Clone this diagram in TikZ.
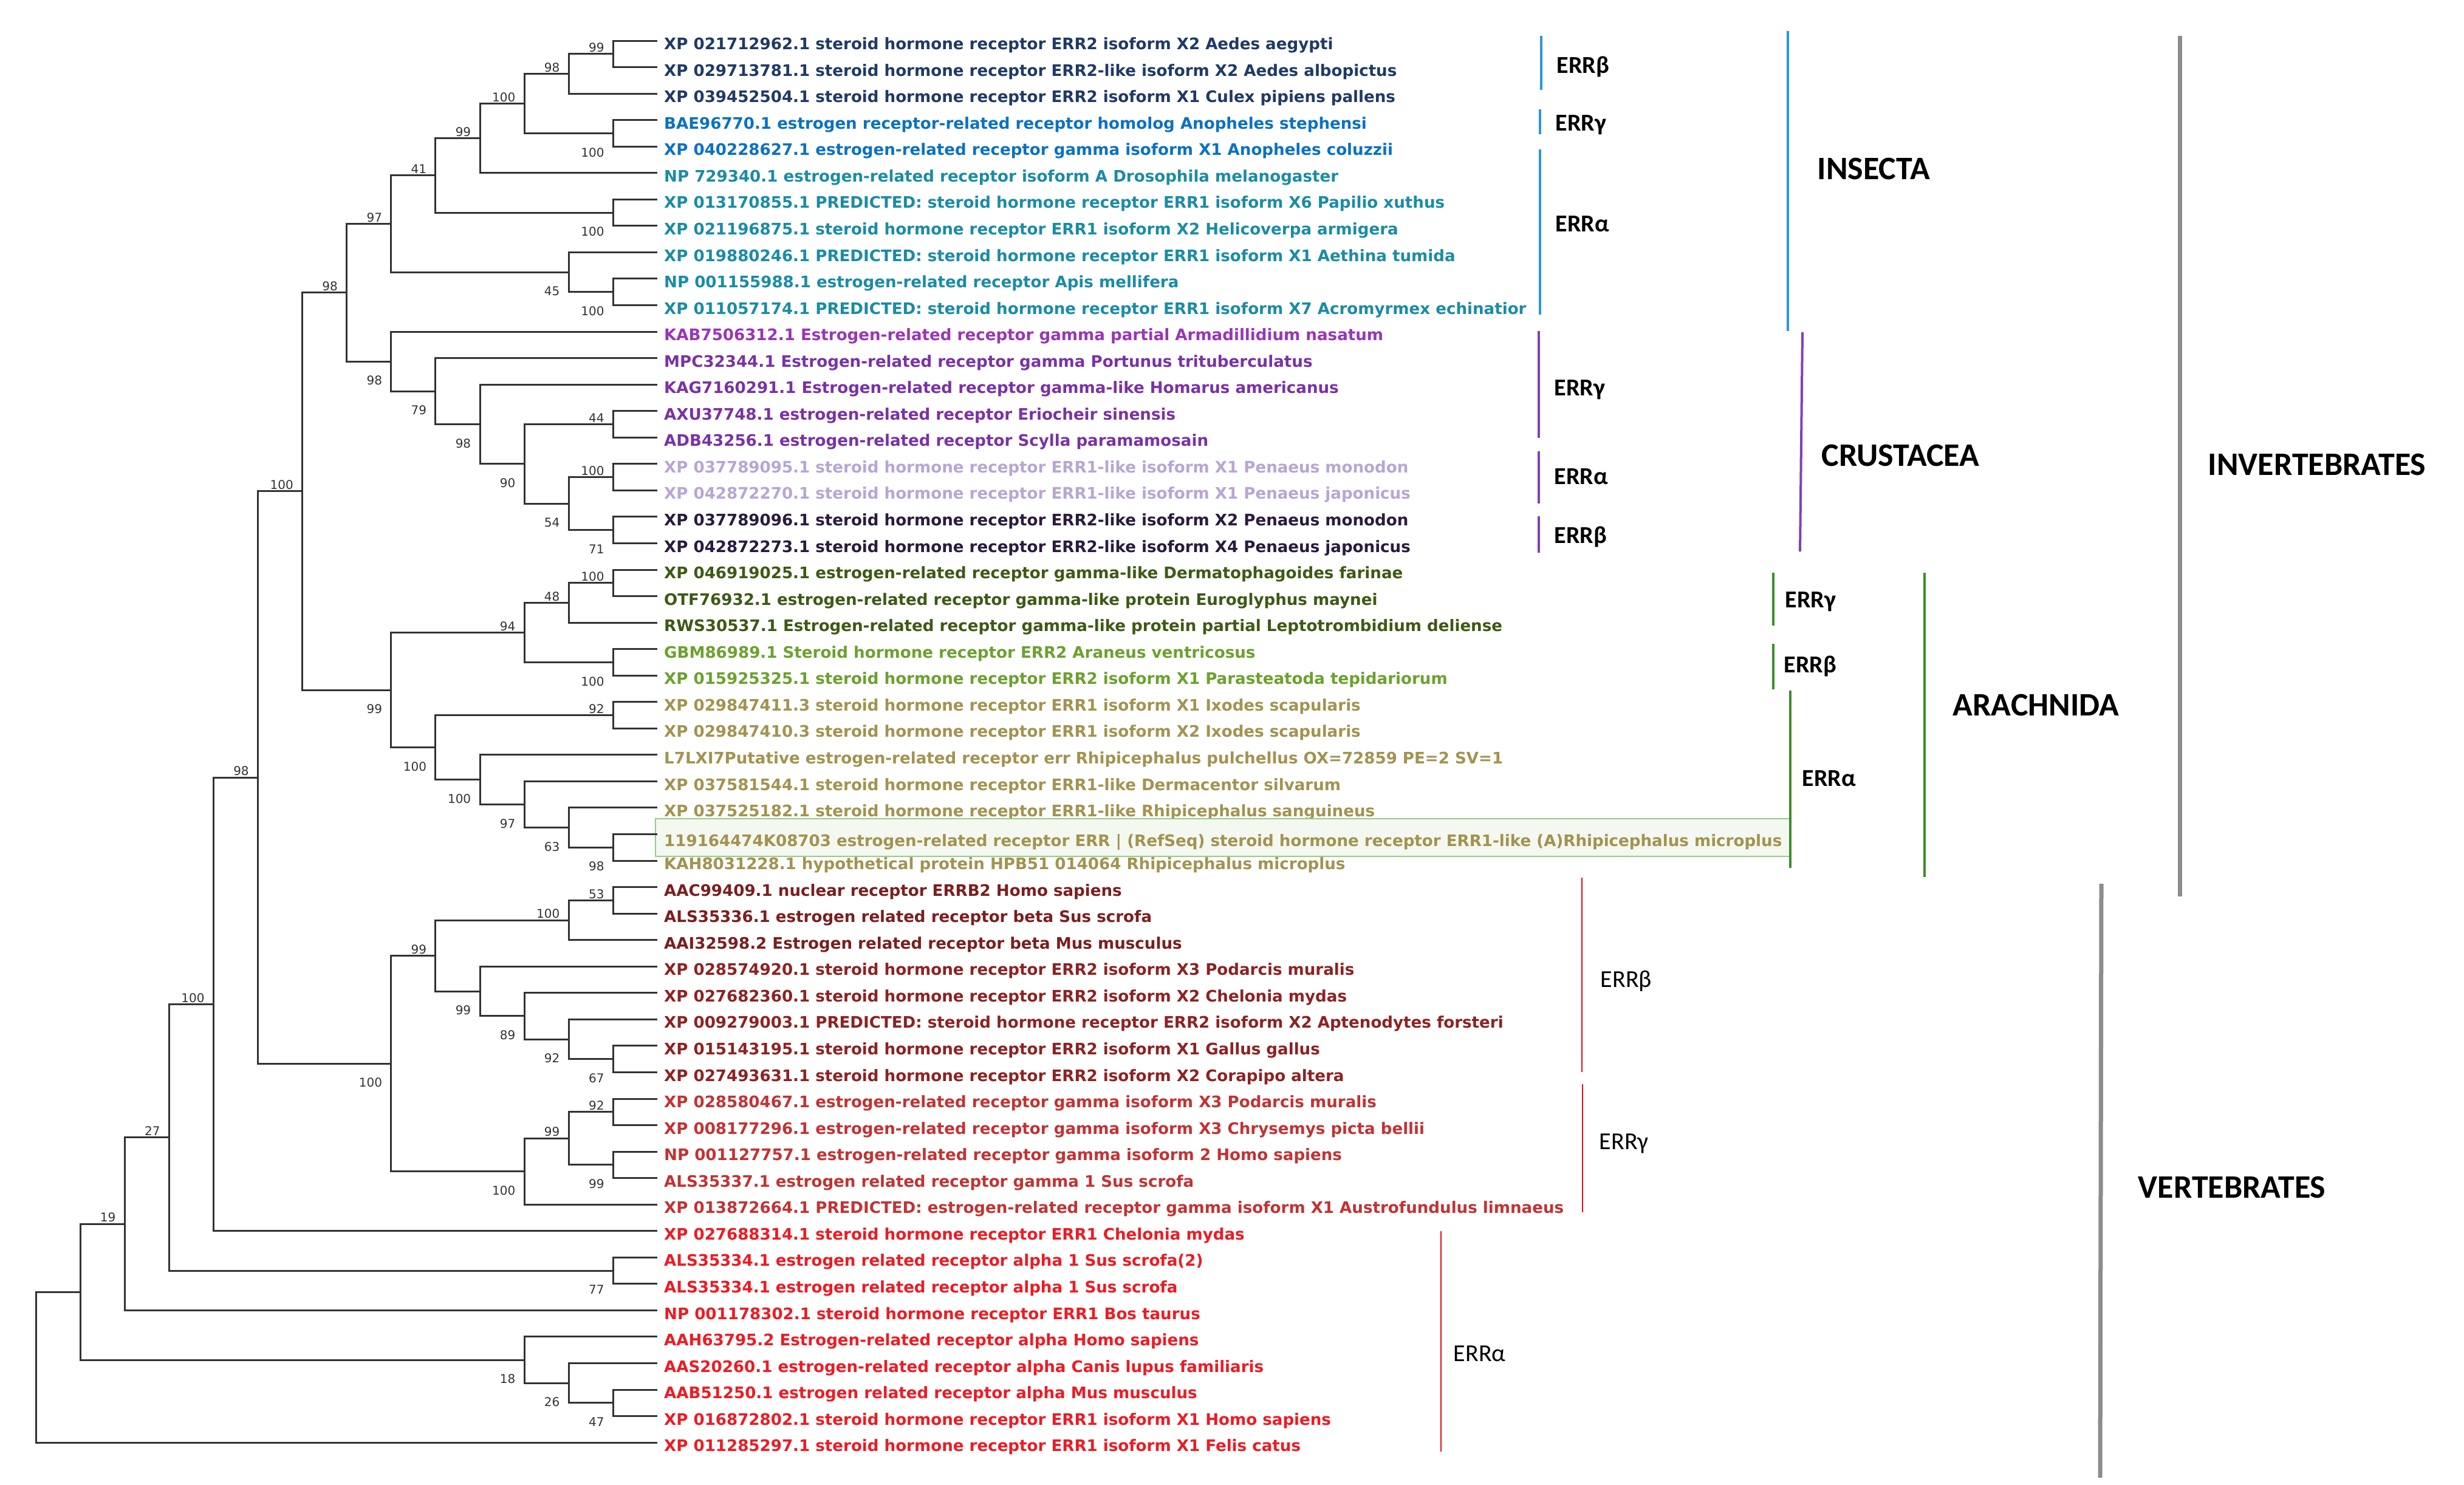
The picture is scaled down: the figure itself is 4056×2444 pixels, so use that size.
\documentclass[tikz,border=0pt]{standalone}
\usepackage{fontspec}
\setmainfont{DejaVu Sans}
\newfontfamily\calib{Carlito}
\definecolor{treecol}{HTML}{333333}
\definecolor{cNavy}{HTML}{1F3A66}
\definecolor{cBlue}{HTML}{0A72C2}
\definecolor{cTeal}{HTML}{1A8CA6}
\definecolor{cMag}{HTML}{9A35B8}
\definecolor{cPurp}{HTML}{7A32A6}
\definecolor{cLav}{HTML}{B8A6D4}
\definecolor{cDkP}{HTML}{2A1B3E}
\definecolor{cOlive}{HTML}{3D5A14}
\definecolor{cGreen}{HTML}{6BA22E}
\definecolor{cKhaki}{HTML}{A39350}
\definecolor{cMar}{HTML}{7C1E1E}
\definecolor{cMar2}{HTML}{8E2222}
\definecolor{cRed2}{HTML}{C23333}
\definecolor{cRed}{HTML}{EC1C24}
\definecolor{brBlue}{HTML}{2A98D8}
\definecolor{brPurp}{HTML}{8440B4}
\definecolor{brGreen}{HTML}{3A8F2A}
\definecolor{brRed}{HTML}{E0101A}
\definecolor{brGray}{HTML}{8C8C8C}
\definecolor{boxLine}{HTML}{96CC86}
\definecolor{boxFill}{HTML}{F3F8F0}
\newcommand\tnode[3]{\coordinate (#1) at ({59+73.1*#2},{67+(#3-1)*43.55});}
\newcommand\clade[3]{\draw[tree] (#2) -| (#1) |- (#3);}
\newcommand\bsu[2]{\node[bsl] (b#1) at ([xshift=-3.5pt,yshift=4.5pt]#1) {#2};}
\newcommand\bsd[2]{\node[bsl] (b#1) at ([xshift=-3.5pt,yshift=-6pt]#1) {#2};}
\newcommand\leaf[3]{\coordinate (L#1) at (1082.4,{67+(#1-1)*43.55});
  \node[leaftext, text=#2] (t#1) at ([xshift=2.5pt]L#1) {#3};}
\begin{document}
\begin{tikzpicture}[x=0.25pt,y=-0.25pt,
  tree/.style={draw=treecol, line width=0.75pt},
  leaftext/.style={anchor=west, inner sep=0pt, text height=0.73em, text depth=0pt,
     font=\fontsize{6.53}{8}\selectfont\bfseries},
  bsl/.style={anchor=east, inner sep=0pt, text height=0.73em, text depth=0pt,
     text=treecol, font=\fontsize{5}{6}\selectfont},
  subl/.style={anchor=west, inner sep=0pt, text height=0.65em, text depth=0pt,
     font=\calib\bfseries\fontsize{10}{12}\selectfont},
  subv/.style={anchor=west, inner sep=0pt, text height=0.65em, text depth=0pt,
     font=\calib\fontsize{10}{12}\selectfont},
  bigl/.style={anchor=west, inner sep=0pt, text height=0.65em, text depth=0pt,
     font=\calib\bfseries\fontsize{13.5}{16}\selectfont},
  brline/.style={line width=1pt},
  grayline/.style={draw=brGray, line width=1.75pt}]
\fill[white] (0,0) rectangle (4056,2444);
\useasboundingbox (0,0) rectangle (4056,2444);

% ---------------- leaves ----------------
\leaf{1}{cNavy}{XP 021712962.1 steroid hormone receptor ERR2 isoform X2 Aedes aegypti}
\leaf{2}{cNavy}{XP 029713781.1 steroid hormone receptor ERR2-like isoform X2 Aedes albopictus}
\leaf{3}{cNavy}{XP 039452504.1 steroid hormone receptor ERR2 isoform X1 Culex pipiens pallens}
\leaf{4}{cBlue}{BAE96770.1 estrogen receptor-related receptor homolog Anopheles stephensi}
\leaf{5}{cBlue}{XP 040228627.1 estrogen-related receptor gamma isoform X1 Anopheles coluzzii}
\leaf{6}{cTeal}{NP 729340.1 estrogen-related receptor isoform A Drosophila melanogaster}
\leaf{7}{cTeal}{XP 013170855.1 PREDICTED: steroid hormone receptor ERR1 isoform X6 Papilio xuthus}
\leaf{8}{cTeal}{XP 021196875.1 steroid hormone receptor ERR1 isoform X2 Helicoverpa armigera}
\leaf{9}{cTeal}{XP 019880246.1 PREDICTED: steroid hormone receptor ERR1 isoform X1 Aethina tumida}
\leaf{10}{cTeal}{NP 001155988.1 estrogen-related receptor Apis mellifera}
\leaf{11}{cTeal}{XP 011057174.1 PREDICTED: steroid hormone receptor ERR1 isoform X7 Acromyrmex echinatior}
\leaf{12}{cMag}{KAB7506312.1 Estrogen-related receptor gamma partial Armadillidium nasatum}
\leaf{13}{cPurp}{MPC32344.1 Estrogen-related receptor gamma Portunus trituberculatus}
\leaf{14}{cPurp}{KAG7160291.1 Estrogen-related receptor gamma-like Homarus americanus}
\leaf{15}{cPurp}{AXU37748.1 estrogen-related receptor Eriocheir sinensis}
\leaf{16}{cPurp}{ADB43256.1 estrogen-related receptor Scylla paramamosain}
\leaf{17}{cLav}{XP 037789095.1 steroid hormone receptor ERR1-like isoform X1 Penaeus monodon}
\leaf{18}{cLav}{XP 042872270.1 steroid hormone receptor ERR1-like isoform X1 Penaeus japonicus}
\leaf{19}{cDkP}{XP 037789096.1 steroid hormone receptor ERR2-like isoform X2 Penaeus monodon}
\leaf{20}{cDkP}{XP 042872273.1 steroid hormone receptor ERR2-like isoform X4 Penaeus japonicus}
\leaf{21}{cOlive}{XP 046919025.1 estrogen-related receptor gamma-like Dermatophagoides farinae}
\leaf{22}{cOlive}{OTF76932.1 estrogen-related receptor gamma-like protein Euroglyphus maynei}
\leaf{23}{cOlive}{RWS30537.1 Estrogen-related receptor gamma-like protein partial Leptotrombidium deliense}
\leaf{24}{cGreen}{GBM86989.1 Steroid hormone receptor ERR2 Araneus ventricosus}
\leaf{25}{cGreen}{XP 015925325.1 steroid hormone receptor ERR2 isoform X1 Parasteatoda tepidariorum}
\leaf{26}{cKhaki}{XP 029847411.3 steroid hormone receptor ERR1 isoform X1 Ixodes scapularis}
\leaf{27}{cKhaki}{XP 029847410.3 steroid hormone receptor ERR1 isoform X2 Ixodes scapularis}
\leaf{28}{cKhaki}{L7LXI7Putative estrogen-related receptor err Rhipicephalus pulchellus OX=72859 PE=2 SV=1}
\leaf{29}{cKhaki}{XP 037581544.1 steroid hormone receptor ERR1-like Dermacentor silvarum}
\leaf{30}{cKhaki}{XP 037525182.1 steroid hormone receptor ERR1-like Rhipicephalus sanguineus}
\leaf{32}{cKhaki}{KAH8031228.1 hypothetical protein HPB51 014064 Rhipicephalus microplus}
\coordinate (L31) at (1082.4,{67+30*43.55});
\node[leaftext, text=cKhaki, draw=boxLine, fill=boxFill, line width=0.6pt,
      inner xsep=3.5pt, minimum height=15.5pt] (t31) at (1078,1379)
  {119164474K08703 estrogen-related receptor ERR | (RefSeq) steroid hormone receptor ERR1-like (A)Rhipicephalus microplus};
\leaf{33}{cMar}{AAC99409.1 nuclear receptor ERRB2 Homo sapiens}
\leaf{34}{cMar}{ALS35336.1 estrogen related receptor beta Sus scrofa}
\leaf{35}{cMar}{AAI32598.2 Estrogen related receptor beta Mus musculus}
\leaf{36}{cMar2}{XP 028574920.1 steroid hormone receptor ERR2 isoform X3 Podarcis muralis}
\leaf{37}{cMar2}{XP 027682360.1 steroid hormone receptor ERR2 isoform X2 Chelonia mydas}
\leaf{38}{cMar2}{XP 009279003.1 PREDICTED: steroid hormone receptor ERR2 isoform X2 Aptenodytes forsteri}
\leaf{39}{cMar2}{XP 015143195.1 steroid hormone receptor ERR2 isoform X1 Gallus gallus}
\leaf{40}{cMar2}{XP 027493631.1 steroid hormone receptor ERR2 isoform X2 Corapipo altera}
\leaf{41}{cRed2}{XP 028580467.1 estrogen-related receptor gamma isoform X3 Podarcis muralis}
\leaf{42}{cRed2}{XP 008177296.1 estrogen-related receptor gamma isoform X3 Chrysemys picta bellii}
\leaf{43}{cRed2}{NP 001127757.1 estrogen-related receptor gamma isoform 2 Homo sapiens}
\leaf{44}{cRed2}{ALS35337.1 estrogen related receptor gamma 1 Sus scrofa}
\leaf{45}{cRed2}{XP 013872664.1 PREDICTED: estrogen-related receptor gamma isoform X1 Austrofundulus limnaeus}
\leaf{46}{cRed}{XP 027688314.1 steroid hormone receptor ERR1 Chelonia mydas}
\leaf{47}{cRed}{ALS35334.1 estrogen related receptor alpha 1 Sus scrofa(2)}
\leaf{48}{cRed}{ALS35334.1 estrogen related receptor alpha 1 Sus scrofa}
\leaf{49}{cRed}{NP 001178302.1 steroid hormone receptor ERR1 Bos taurus}
\leaf{50}{cRed}{AAH63795.2 Estrogen-related receptor alpha Homo sapiens}
\leaf{51}{cRed}{AAS20260.1 estrogen-related receptor alpha Canis lupus familiaris}
\leaf{52}{cRed}{AAB51250.1 estrogen related receptor alpha Mus musculus}
\leaf{53}{cRed}{XP 016872802.1 steroid hormone receptor ERR1 isoform X1 Homo sapiens}
\leaf{54}{cRed}{XP 011285297.1 steroid hormone receptor ERR1 isoform X1 Felis catus}

% ---------------- internal nodes ----------------
\tnode{nA}{13}{1.5}
\tnode{nB}{12}{2.25}
\tnode{nC}{13}{4.5}
\tnode{nD}{11}{3.375}
\tnode{nE}{10}{4.6875}
\tnode{nF}{13}{7.5}
\tnode{nG}{9}{6.09375}
\tnode{nH}{13}{10.5}
\tnode{nI}{12}{9.75}
\tnode{nJ}{8}{7.921875}
\tnode{nQ}{13}{15.5}
\tnode{nS}{13}{17.5}
\tnode{nT}{13}{19.5}
\tnode{nR}{12}{18.5}
\tnode{nP}{11}{17}
\tnode{nO}{10}{15.5}
\tnode{nN}{9}{14.25}
\tnode{nL}{8}{13.125}
\tnode{nK}{7}{10.5234375}
\tnode{nAA}{13}{21.5}
\tnode{nY}{12}{22.25}
\tnode{nZ}{13}{24.5}
\tnode{nW}{11}{23.375}
\tnode{nAB}{13}{26.5}
\tnode{nAF}{13}{31.5}
\tnode{nAE}{12}{30.75}
\tnode{nAD}{11}{29.875}
\tnode{nAC}{10}{28.9375}
\tnode{nX}{9}{27.71875}
\tnode{nU}{8}{25.546875}
\tnode{nM}{6}{18.03515625}
\tnode{nAM}{13}{33.5}
\tnode{nAK}{12}{34.25}
\tnode{nAP}{13}{39.5}
\tnode{nAO}{12}{38.75}
\tnode{nAN}{11}{37.875}
\tnode{nAL}{10}{36.9375}
\tnode{nAI}{9}{35.59375}
\tnode{nAQ}{13}{41.5}
\tnode{nAR}{13}{43.5}
\tnode{nAS}{12}{42.5}
\tnode{nAT}{11}{43.75}
\tnode{nAG}{8}{39.671875}
\tnode{nV}{5}{28.853515625}
\tnode{nAH}{4}{37.4267578125}
\tnode{nAV}{13}{47.5}
\tnode{nAU}{3}{42.46337890625}
\tnode{nAW}{2}{45.731689453125}
\tnode{nBA}{13}{52.5}
\tnode{nAZ}{12}{51.75}
\tnode{nAY}{11}{50.875}
\tnode{nAX}{1}{48.3033447265625}
\tnode{nRoot}{0}{51.15167236328125}

% ---------------- branches ----------------
\clade{nA}{L1}{L2}
\clade{nB}{nA}{L3}
\clade{nC}{L4}{L5}
\clade{nD}{nB}{nC}
\clade{nE}{nD}{L6}
\clade{nF}{L7}{L8}
\clade{nG}{nE}{nF}
\clade{nH}{L10}{L11}
\clade{nI}{L9}{nH}
\clade{nJ}{nG}{nI}
\clade{nQ}{L15}{L16}
\clade{nS}{L17}{L18}
\clade{nT}{L19}{L20}
\clade{nR}{nS}{nT}
\clade{nP}{nQ}{nR}
\clade{nO}{L14}{nP}
\clade{nN}{L13}{nO}
\clade{nL}{L12}{nN}
\clade{nK}{nJ}{nL}
\clade{nAA}{L21}{L22}
\clade{nY}{nAA}{L23}
\clade{nZ}{L24}{L25}
\clade{nW}{nY}{nZ}
\clade{nAB}{L26}{L27}
\clade{nAF}{L31}{L32}
\clade{nAE}{L30}{nAF}
\clade{nAD}{L29}{nAE}
\clade{nAC}{L28}{nAD}
\clade{nX}{nAB}{nAC}
\clade{nU}{nW}{nX}
\clade{nM}{nK}{nU}
\clade{nAM}{L33}{L34}
\clade{nAK}{nAM}{L35}
\clade{nAP}{L39}{L40}
\clade{nAO}{L38}{nAP}
\clade{nAN}{L37}{nAO}
\clade{nAL}{L36}{nAN}
\clade{nAI}{nAK}{nAL}
\clade{nAQ}{L41}{L42}
\clade{nAR}{L43}{L44}
\clade{nAS}{nAQ}{nAR}
\clade{nAT}{nAS}{L45}
\clade{nAG}{nAI}{nAT}
\clade{nV}{nM}{nAG}
\clade{nAH}{nV}{L46}
\clade{nAV}{L47}{L48}
\clade{nAU}{nAH}{nAV}
\clade{nAW}{nAU}{L49}
\clade{nBA}{L52}{L53}
\clade{nAZ}{L51}{nBA}
\clade{nAY}{L50}{nAZ}
\clade{nAX}{nAW}{nAY}
\clade{nRoot}{nAX}{L54}

% ---------------- bootstrap values ----------------
\bsu{nA}{99} \bsu{nB}{98} \bsd{nC}{100} \bsu{nD}{100} \bsu{nE}{99}
\bsd{nF}{100} \bsu{nG}{41} \bsd{nH}{100} \bsd{nI}{45} \bsu{nJ}{97}
\bsu{nK}{98} \bsd{nL}{98} \bsd{nN}{79} \bsd{nO}{98} \bsd{nP}{90}
\bsu{nQ}{44} \bsd{nR}{54} \bsu{nS}{100} \bsd{nT}{71} \bsu{nM}{100}
\bsd{nU}{99} \bsu{nW}{94} \bsu{nY}{48} \bsu{nAA}{100} \bsd{nZ}{100}
\bsd{nX}{100} \bsu{nAB}{92} \bsd{nAC}{100} \bsd{nAD}{97} \bsd{nAE}{63}
\bsd{nAF}{98} \bsu{nV}{98} \bsd{nAG}{100} \bsu{nAI}{99} \bsu{nAK}{100}
\bsu{nAM}{53} \bsd{nAL}{99} \bsd{nAN}{89} \bsd{nAO}{92} \bsd{nAP}{67}
\bsd{nAT}{100} \bsu{nAS}{99} \bsu{nAQ}{92} \bsd{nAR}{99} \bsu{nAH}{100}
\bsu{nAU}{27} \bsd{nAV}{77} \bsu{nAW}{19} \bsd{nAY}{18} \bsd{nAZ}{26}
\bsd{nBA}{47}

% ---------------- brackets: insecta ----------------
\draw[brline, brBlue] (2537,59) -- (2537,148);
\node[subl] (iB) at (2562,107) {ERRβ};
\draw[brline, brBlue] (2535,180) -- (2535,221);
\node[subl] (iG) at (2560,202) {ERRγ};
\draw[brline, brBlue] (2535,246) -- (2535,518);
\node[subl] (iA) at (2560,368) {ERRα};
\draw[brline, brBlue] (2943,51) -- (2943,545);
\node[bigl] (insecta) at (2991,282) {INSECTA};

% ---------------- brackets: crustacea ----------------
\draw[brline, brPurp] (2533,545) -- (2533,721);
\node[subl] (cG) at (2558,638) {ERRγ};
\draw[brline, brPurp] (2533,743) -- (2533,829);
\node[subl] (cA) at (2558,784) {ERRα};
\draw[brline, brPurp] (2533,850) -- (2533,910);
\node[subl] (cB) at (2558,881) {ERRβ};
\draw[brline, brPurp] (2967,547) -- (2963,908);
\node[bigl] (crustacea) at (2998,754) {CRUSTACEA};

% ---------------- brackets: arachnida ----------------
\draw[brline, brGreen] (2919,943) -- (2919,1030);
\node[subl] (aG) at (2938,987) {ERRγ};
\draw[brline, brGreen] (2919,1060) -- (2919,1135);
\node[subl] (aB) at (2936,1094) {ERRβ};
\draw[brline, brGreen] (2947,1137) -- (2947,1429);
\node[subl] (aA) at (2966,1281) {ERRα};
\draw[brline, brGreen] (3168,943) -- (3168,1444);
\node[bigl] (arachnida) at (3214,1165) {ARACHNIDA};

% ---------------- invertebrates ----------------
\draw[grayline] (3588,59) -- (3588,1476);
\node[bigl] (invert) at (3634,769) {INVERTEBRATES};

% ---------------- vertebrates ----------------
\draw[line width=0.6pt, brRed] (2604,1445) -- (2604,1765);
\node[subv] (vB) at (2634,1612) {ERRβ};
\draw[line width=0.6pt, brRed] (2605,1785) -- (2605,1996);
\node[subv] (vG) at (2632,1879) {ERRγ};
\draw[line width=0.6pt, brRed] (2372,2027) -- (2372,2390);
\node[subv] (vA) at (2392,2228) {ERRα};
\draw[grayline] (3459,1455) -- (3457,2433);
\node[bigl] (vert) at (3519,1959) {VERTEBRATES};
\end{tikzpicture}
\end{document}
